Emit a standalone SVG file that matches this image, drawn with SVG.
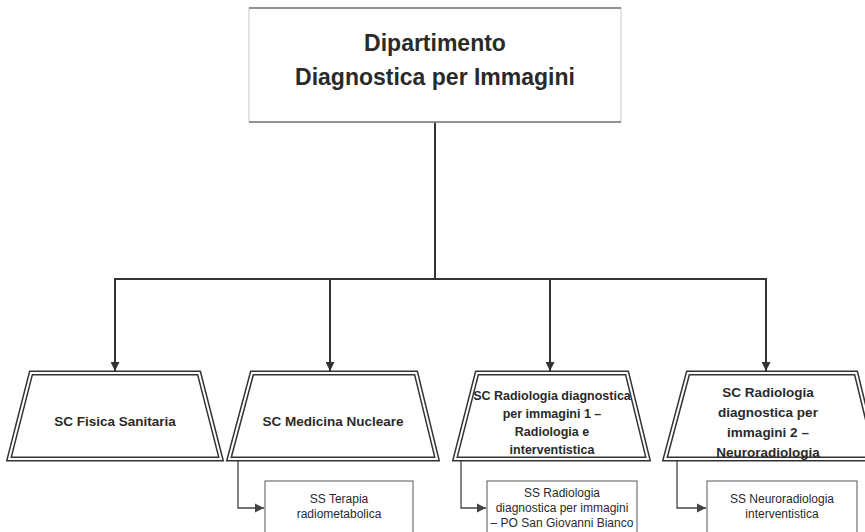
<svg xmlns="http://www.w3.org/2000/svg" width="865" height="532" viewBox="0 0 865 532">
<style>
text{font-family:"Liberation Sans",Arial,sans-serif;fill:#2a2a2a;text-anchor:middle}
.t{font-size:23px;font-weight:bold}
.sc{font-size:13.5px;font-weight:bold}
.sc3{font-size:12.5px;font-weight:bold}
.ss{font-size:12px}
.outer{fill:#fff;stroke:#333;stroke-width:5;stroke-linejoin:miter}
.inner{fill:none;stroke:#fff;stroke-width:2;stroke-linejoin:miter}
.box{fill:#fff;stroke:#555;stroke-width:1}
.c{fill:none;stroke:#333;stroke-width:2}
.cs{fill:none;stroke:#444;stroke-width:1.3}
</style>
<defs>
<marker id="ad" viewBox="0 0 10 10" refX="10" refY="5" markerWidth="4.5" markerHeight="4.5" orient="auto" markerUnits="strokeWidth">
<path d="M0,0 L10,5 L0,10 z" fill="#333"/>
</marker>
<marker id="as" viewBox="0 0 10 10" refX="10" refY="5" markerWidth="7" markerHeight="7" orient="auto" markerUnits="strokeWidth">
<path d="M0,0 L10,5 L0,10 z" fill="#444"/>
</marker>
</defs>
<g id="connectors">
<path class="c" d="M435,122 V279"/>
<path class="c" d="M115,279 H766"/>
<path class="c" d="M115,278 V371" marker-end="url(#ad)"/>
<path class="c" d="M330,279 V371" marker-end="url(#ad)"/>
<path class="c" d="M550,279 V371" marker-end="url(#ad)"/>
<path class="c" d="M766,278 V371" marker-end="url(#ad)"/>
<path class="cs" d="M238,461 V508 H264" marker-end="url(#as)"/>
<path class="cs" d="M461,461 V508 H486" marker-end="url(#as)"/>
<path class="cs" d="M677,461 V508 H706" marker-end="url(#as)"/>
</g>
<g id="top">
<rect x="249" y="8" width="372" height="114" fill="#fff" stroke="#bbb" stroke-width="0.8"/>
<path d="M249,8 H621 M249,122 H621" stroke="#777" stroke-width="1.3" fill="none"/>
<text class="t" x="435" y="51">Dipartimento</text>
<text class="t" x="435" y="85">Diagnostica per Immagini</text>
</g>
<g id="fisica">
<path class="outer" d="M31,373 H199 L221,459 H9 Z"/>
<path class="inner" d="M31,373 H199 L221,459 H9 Z"/>
<text class="sc" x="115" y="426">SC Fisica Sanitaria</text>
</g>
<g id="medicina">
<path class="outer" d="M252,373 H416 L437,459 H229 Z"/>
<path class="inner" d="M252,373 H416 L437,459 H229 Z"/>
<text class="sc" x="333" y="426">SC Medicina Nucleare</text>
</g>
<g id="radio1">
<path class="outer" d="M477,373 H627 L648,459 H455 Z"/>
<path class="inner" d="M477,373 H627 L648,459 H455 Z"/>
<text class="sc3" x="552" y="400">SC Radiologia diagnostica</text>
<text class="sc3" x="552" y="418">per immagini 1 –</text>
<text class="sc3" x="552" y="436">Radiologia e</text>
<text class="sc3" x="552" y="454">interventistica</text>
</g>
<g id="radio2">
<path class="outer" d="M688,373 H856 L877,459 H665 Z"/>
<path class="inner" d="M688,373 H856 L877,459 H665 Z"/>
<text class="sc" x="768" y="397">SC Radiologia</text>
<text class="sc" x="768" y="417">diagnostica per</text>
<text class="sc" x="768" y="437">immagini 2 –</text>
<text class="sc" x="768" y="457">Neuroradiologia</text>
</g>
<g id="ss1">
<rect class="box" x="265" y="481" width="148" height="56"/>
<text class="ss" x="339" y="503">SS Terapia</text>
<text class="ss" x="339" y="518">radiometabolica</text>
</g>
<g id="ss2">
<rect class="box" x="487" y="481" width="150" height="56"/>
<text class="ss" x="562" y="497">SS  Radiologia</text>
<text class="ss" x="562" y="512">diagnostica per immagini</text>
<text class="ss" x="562" y="527">– PO San Giovanni Bianco</text>
</g>
<g id="ss3">
<rect class="box" x="707" y="481" width="150" height="56"/>
<text class="ss" x="782" y="503">SS Neuroradiologia</text>
<text class="ss" x="782" y="518">interventistica</text>
</g>
</svg>
